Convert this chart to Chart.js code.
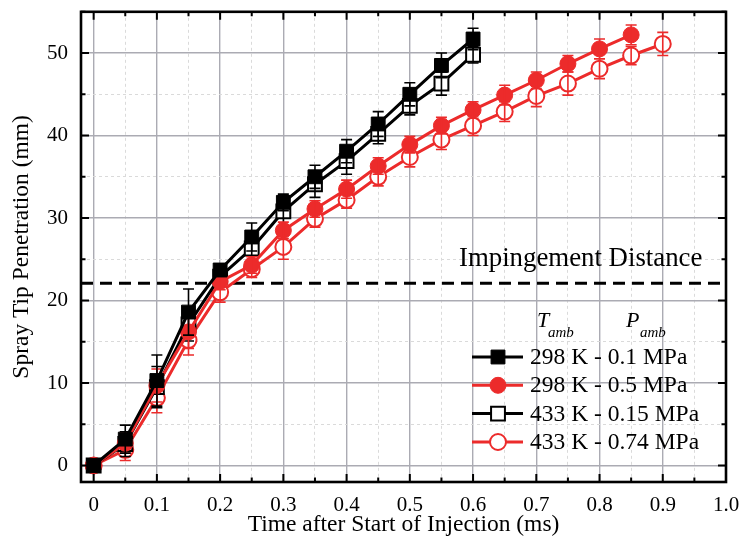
<!DOCTYPE html>
<html>
<head>
<meta charset="utf-8">
<script src="https://cdn.jsdelivr.net/npm/chart.js@4.4.0/dist/chart.umd.min.js"></script>
<style>
  body { margin: 0; background: #fff; }
  canvas { display: block; }
</style>
</head>
<body>
<canvas id="chart" width="740" height="548"></canvas>
<script>
const RED = '#ec2b2b';

// time after start of injection (ms)
const timeAmbient = [0, 0.05, 0.1, 0.15, 0.2, 0.25, 0.3, 0.35, 0.4, 0.45, 0.5, 0.55, 0.6];
const time298High = [0, 0.05, 0.1, 0.15, 0.2, 0.25, 0.3, 0.35, 0.4, 0.45, 0.5, 0.55, 0.6,
                     0.65, 0.7, 0.75, 0.8, 0.85];
const time433High = [0, 0.05, 0.1, 0.15, 0.2, 0.25, 0.3, 0.35, 0.4, 0.45, 0.5, 0.55, 0.6,
                     0.65, 0.7, 0.75, 0.8, 0.85, 0.9];

// spray tip penetration (mm) and error half-widths
const pen298_01 = [0, 3.2, 10.3, 18.6, 23.7, 27.7, 31.9, 35.0, 38.1, 41.4, 45.0, 48.5, 51.7];
const err298_01 = [0.3, 1.7, 3.1, 2.8, 0.5, 1.7, 1.0, 1.4, 1.4, 1.5, 1.4, 1.5, 1.3];

const pen298_05 = [0, 2.7, 9.7, 16.2, 22.3, 24.3, 28.5, 31.1, 33.5, 36.3, 38.9, 41.2, 43.1,
                   44.9, 46.7, 48.7, 50.5, 52.2];
const err298_05 = [0.3, 1.2, 2.0, 2.0, 1.0, 1.0, 1.0, 1.0, 1.1, 1.0, 1.0, 1.0, 1.0,
                   1.2, 1.0, 1.0, 1.2, 1.2];

const pen433_015 = [0, 2.6, 9.5, 17.1, 22.9, 26.3, 30.8, 34.1, 36.9, 40.2, 43.6, 46.3, 49.8];
const err433_015 = [0.3, 1.5, 2.5, 2.0, 0.8, 1.5, 1.9, 1.6, 1.6, 1.2, 1.1, 1.4, 1.0];

const pen433_074 = [0, 1.9, 8.2, 15.2, 21.0, 23.8, 26.5, 29.9, 32.2, 35.0, 37.4, 39.5, 41.2,
                    42.9, 44.8, 46.3, 48.1, 49.7, 51.1];
const err433_074 = [0.3, 1.3, 1.8, 1.8, 1.2, 1.0, 1.5, 1.0, 1.0, 1.1, 1.2, 1.2, 1.2,
                    1.2, 1.3, 1.4, 1.2, 1.1, 1.4];

const impingementDistance = 22.1;
const impingementSpan = [-0.02, 1.0];

const xTicks = [0, 0.05, 0.1, 0.15, 0.2, 0.25, 0.3, 0.35, 0.4, 0.45, 0.5,
                0.55, 0.6, 0.65, 0.7, 0.75, 0.8, 0.85, 0.9, 0.95, 1.0];
const yTicks = [0, 5, 10, 15, 20, 25, 30, 35, 40, 45, 50, 55];

const legendLabels = ['298 K - 0.1 MPa', '298 K - 0.5 MPa', '433 K - 0.15 MPa', '433 K - 0.74 MPa'];

const SERIF = "'Liberation Serif', 'Times New Roman', serif";
Chart.defaults.font.family = SERIF;
Chart.defaults.color = '#000';

const isMajorX = v => Math.round(v * 100) % 10 === 0;
const isMajorY = v => Math.round(v) % 10 === 0;

function points(xs, ys) {
    return xs.map((x, i) => ({x: x, y: ys[i]}));
}

function series(label, xs, ys, errs, color, style, filled) {
    return {
        label: label,
        data: points(xs, ys),
        errors: errs,
        borderColor: color,
        borderWidth: 3,
        pointStyle: style,
        pointRadius: style === 'rect' ? 9.8 : 8,
        pointBorderWidth: filled ? 1 : 2,
        pointBackgroundColor: filled ? color : '#fff',
        pointBorderColor: color,
        tension: 0
    };
}

function drawMarker(ctx, ds, x, y) {
    ctx.fillStyle = ds.pointBackgroundColor;
    ctx.strokeStyle = ds.pointBorderColor;
    ctx.lineWidth = ds.pointBorderWidth;
    ctx.beginPath();
    if (ds.pointStyle === 'rect') {
        const h = ds.pointRadius * Math.SQRT1_2;
        ctx.rect(x - h, y - h, 2 * h, 2 * h);
    } else {
        ctx.arc(x, y, ds.pointRadius, 0, Math.PI * 2);
    }
    ctx.fill();
    ctx.stroke();
}

// vertical error bars, drawn right after each series
const errorBars = {
    id: 'errorBars',
    afterDatasetDraw(chart, args) {
        const ds = chart.data.datasets[args.index];
        if (!ds.errors) return;
        const {ctx} = chart;
        const {x, y} = chart.scales;
        ctx.save();
        ctx.strokeStyle = ds.borderColor;
        ctx.lineWidth = 1.6;
        ctx.beginPath();
        ds.data.forEach((p, i) => {
            const e = ds.errors[i];
            const px = x.getPixelForValue(p.x);
            const top = y.getPixelForValue(p.y + e);
            const bot = y.getPixelForValue(p.y - e);
            ctx.moveTo(px, top); ctx.lineTo(px, bot);
            ctx.moveTo(px - 5.5, top); ctx.lineTo(px + 5.5, top);
            ctx.moveTo(px - 5.5, bot); ctx.lineTo(px + 5.5, bot);
        });
        ctx.stroke();
        ctx.restore();
    }
};

// box frame, inward ticks on all sides, legend and annotation
const decorations = {
    id: 'decorations',
    afterDraw(chart) {
        const {ctx, chartArea: a} = chart;
        const {x, y} = chart.scales;
        ctx.save();

        ctx.strokeStyle = '#000';
        ctx.lineWidth = 2;
        ctx.beginPath();
        x.ticks.forEach(t => {
            const px = x.getPixelForValue(t.value);
            const len = isMajorX(t.value) ? 8 : 4.5;
            ctx.moveTo(px, a.bottom); ctx.lineTo(px, a.bottom - len);
            ctx.moveTo(px, a.top); ctx.lineTo(px, a.top + len);
        });
        y.ticks.forEach(t => {
            const py = y.getPixelForValue(t.value);
            const len = isMajorY(t.value) ? 8 : 4.5;
            ctx.moveTo(a.left, py); ctx.lineTo(a.left + len, py);
            ctx.moveTo(a.right, py); ctx.lineTo(a.right - len, py);
        });
        ctx.stroke();

        ctx.lineWidth = 2.6;
        ctx.strokeRect(a.left, a.top, a.right - a.left, a.bottom - a.top);

        // annotation above the dashed line
        ctx.fillStyle = '#000';
        ctx.textBaseline = 'alphabetic';
        ctx.font = '26.8px ' + SERIF;
        ctx.fillText('Impingement Distance', 459, 266);

        // legend header
        ctx.font = 'italic 22px ' + SERIF;
        ctx.fillText('T', 537, 327);
        ctx.fillText('P', 626, 327);
        ctx.font = 'italic 15px ' + SERIF;
        ctx.fillText('amb', 548, 337);
        ctx.fillText('amb', 640, 337);

        // legend entries
        const rowY = [357, 385.3, 413.6, 442];
        legendLabels.forEach((label, i) => {
            const ds = chart.data.datasets[i];
            const ry = rowY[i];
            ctx.strokeStyle = ds.borderColor;
            ctx.lineWidth = ds.borderWidth;
            ctx.beginPath();
            ctx.moveTo(472, ry); ctx.lineTo(523, ry);
            ctx.stroke();
            drawMarker(ctx, ds, 498, ry);
            ctx.fillStyle = '#000';
            ctx.font = '23.5px ' + SERIF;
            ctx.textBaseline = 'middle';
            ctx.fillText(label, 530, ry + 1);
        });

        ctx.restore();
    }
};

const gridColor = major => major ? '#ababb3' : '#dadada';

new Chart(document.getElementById('chart'), {
    type: 'line',
    data: {
        datasets: [
            series(legendLabels[0], timeAmbient, pen298_01, err298_01, '#000', 'rect', true),
            series(legendLabels[1], time298High, pen298_05, err298_05, RED, 'circle', true),
            series(legendLabels[2], timeAmbient, pen433_015, err433_015, '#000', 'rect', false),
            series(legendLabels[3], time433High, pen433_074, err433_074, RED, 'circle', false),
            {
                label: 'Impingement Distance',
                data: impingementSpan.map(x => ({x: x, y: impingementDistance})),
                borderColor: '#000',
                borderWidth: 3,
                borderDash: [12, 7],
                pointRadius: 0
            }
        ]
    },
    options: {
        responsive: false,
        animation: false,
        layout: {padding: {top: 10, right: 14, bottom: 0, left: 0}},
        plugins: {legend: {display: false}, tooltip: {enabled: false}},
        scales: {
            x: {
                type: 'linear',
                min: -0.02,
                max: 1.0,
                afterBuildTicks: s => { s.ticks = xTicks.map(v => ({value: v})); },
                afterFit: s => {
                    s.height = 66;
                    s.paddingLeft = 0;
                    s.paddingRight = 0;
                },
                ticks: {
                    autoSkip: false,
                    maxRotation: 0,
                    padding: 11,
                    font: {size: 21},
                    color: '#000',
                    callback: v => isMajorX(v) ? (v === 0 ? '0' : v.toFixed(1)) : ''
                },
                grid: {
                    drawTicks: false,
                    color: c => gridColor(isMajorX(c.tick.value)),
                    lineWidth: c => isMajorX(c.tick.value) ? 1.4 : 1
                },
                border: {display: false, dash: c => isMajorX(c.tick.value) ? [] : [3, 3]},
                title: {
                    display: true,
                    text: 'Time after Start of Injection (ms)',
                    font: {size: 23.5},
                    color: '#000',
                    padding: {top: 0, bottom: 9}
                }
            },
            y: {
                type: 'linear',
                min: -2,
                max: 55,
                afterBuildTicks: s => { s.ticks = yTicks.map(v => ({value: v})); },
                afterFit: s => {
                    s.width = 81;
                    s.paddingTop = 0;
                    s.paddingBottom = 0;
                },
                ticks: {
                    autoSkip: false,
                    padding: 13,
                    font: {size: 21},
                    color: '#000',
                    callback: v => isMajorY(v) ? String(v) : ''
                },
                grid: {
                    drawTicks: false,
                    color: c => gridColor(isMajorY(c.tick.value)),
                    lineWidth: c => isMajorY(c.tick.value) ? 1.4 : 1
                },
                border: {display: false, dash: c => isMajorY(c.tick.value) ? [] : [3, 3]},
                title: {
                    display: true,
                    text: 'Spray Tip Penetration (mm)',
                    font: {size: 23.5},
                    color: '#000',
                    padding: {top: 8, bottom: 0}
                }
            }
        }
    },
    plugins: [errorBars, decorations]
});
</script>
</body>
</html>
